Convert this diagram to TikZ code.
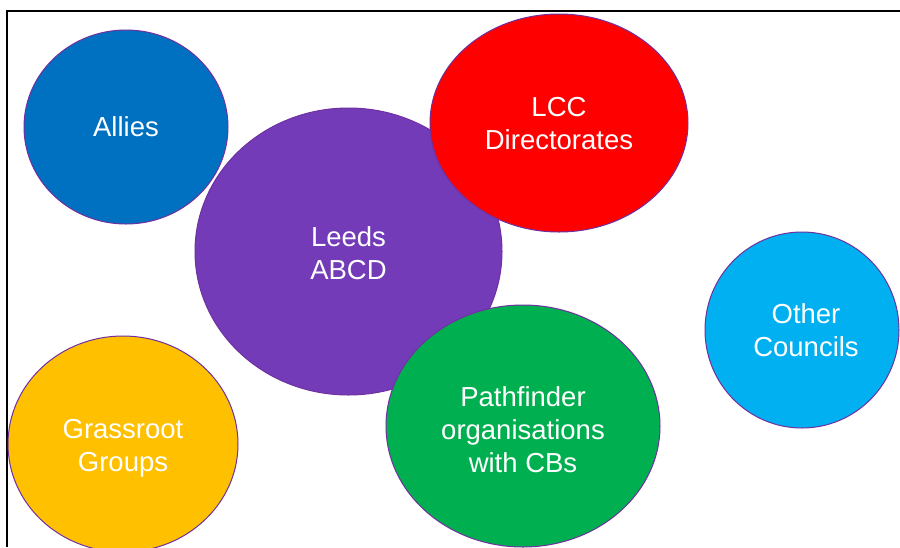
\documentclass[tikz,border=0pt]{standalone}
\usepackage{fontspec}
\setmainfont{Liberation Sans}
\definecolor{alliesblue}{HTML}{0070C0}
\definecolor{leedspurple}{HTML}{733BB8}
\definecolor{lccred}{HTML}{FF0000}
\definecolor{othercyan}{HTML}{00B0F0}
\definecolor{grassgold}{HTML}{FFC000}
\definecolor{pathgreen}{HTML}{00B050}
\definecolor{rimpurple}{HTML}{7030A0}
\begin{document}
\begin{tikzpicture}[x=1pt,y=-1pt,
  bubble/.style={draw=rimpurple,line width=1pt},
  label/.style={text=white,align=center,font=\fontsize{27.5}{33}\selectfont,inner sep=0pt}]
\useasboundingbox (0,0) rectangle (900,547);
\clip (0,0) rectangle (900,547);
\fill[white] (0,0) rectangle (900,547);
\draw[line width=2.2pt] (7,547) -- (7,11) -- (900,11);
% Allies
\fill[alliesblue,bubble] (126,127) ellipse [x radius=102, y radius=97];
\node[label] (allies) at (126,127) {Allies};
% Leeds ABCD
\fill[leedspurple,bubble] (348.5,251.5) ellipse [x radius=153.5, y radius=143.5];
\node[label] (leeds) at (348.5,253) {Leeds\\ABCD};
% LCC Directorates
\fill[lccred,bubble] (559,123) ellipse [x radius=129, y radius=109];
\node[label] (lcc) at (559,123.5) {LCC\\Directorates};
% Pathfinder
\fill[pathgreen,bubble] (523,426) ellipse [x radius=137, y radius=121];
\node[label] (path) at (523,430) {Pathfinder\\organisations\\with CBs};
% Other Councils
\fill[othercyan,bubble] (802,330) ellipse [x radius=97, y radius=98];
\node[label] (other) at (806,330.5) {Other\\Councils};
% Grassroot Groups
\fill[grassgold,bubble] (123,444) ellipse [x radius=115, y radius=108];
\node[label] (grass) at (123,448.5) {Grassroot\\Groups};
\end{tikzpicture}
\end{document}
